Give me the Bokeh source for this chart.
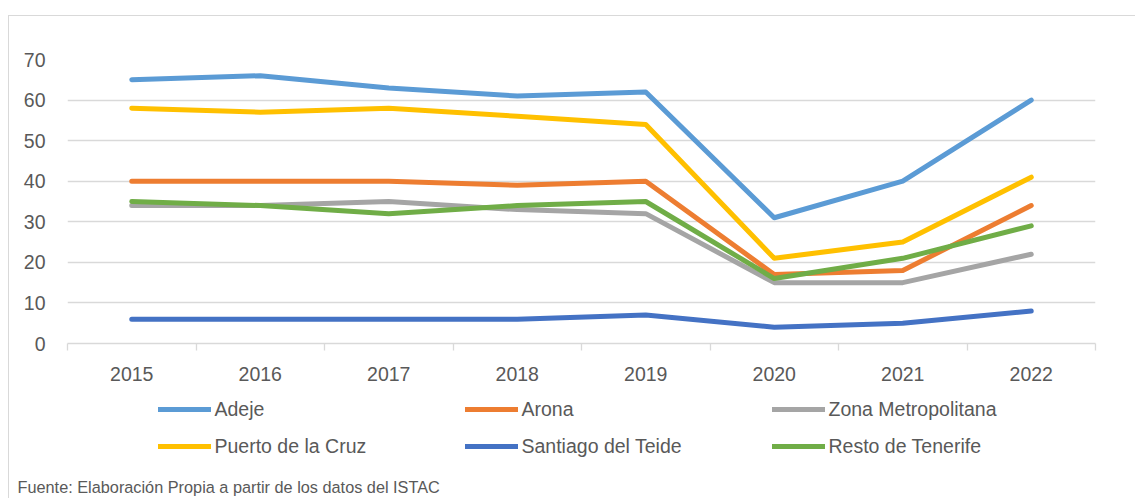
from bokeh.plotting import figure
from bokeh.layouts import column
from bokeh.models import Range1d, FixedTicker, Legend, LegendItem, Label
from bokeh.embed import file_html
from bokeh.resources import INLINE

# ---- data ----
years = ["2015", "2016", "2017", "2018", "2019", "2020", "2021", "2022"]
adeje = [65, 66, 63, 61, 62, 31, 40, 60]
arona = [40, 40, 40, 39, 40, 17, 18, 34]
zona_metropolitana = [34, 34, 35, 33, 32, 15, 15, 22]
puerto_de_la_cruz = [58, 57, 58, 56, 54, 21, 25, 41]
santiago_del_teide = [6, 6, 6, 6, 7, 4, 5, 8]
resto_de_tenerife = [35, 34, 32, 34, 35, 16, 21, 29]
series_names = ["Adeje", "Arona", "Zona Metropolitana",
                "Puerto de la Cruz", "Santiago del Teide", "Resto de Tenerife"]
y_ticks = [0, 10, 20, 30, 40, 50, 60, 70]
source_note = "Fuente: Elaboración Propia a partir de los datos del ISTAC"

# ---- styles ----
series_values = [adeje, arona, zona_metropolitana, puerto_de_la_cruz,
                 santiago_del_teide, resto_de_tenerife]
colors = ["#5B9BD5", "#ED7D31", "#A5A5A5", "#FFC000", "#4472C4", "#70AD47"]
FONT = "Liberation Sans"
TXT = "#595959"
GRID = "#D9D9D9"

W = 1135
H_TOP, H_BOT = 390, 108

# ---------- chart ----------
p = figure(width=W, height=H_TOP, x_range=Range1d(0, len(years)), y_range=Range1d(0, 70),
           output_backend="svg", toolbar_location=None,
           min_border_left=67, min_border_right=40, min_border_top=59,
           min_border_bottom=H_TOP - 343)
p.outline_line_color = None
p.background_fill_color = None
p.border_fill_color = None
p.frame_align = False
p.styles = {
    "background": ("linear-gradient(#D9D9D9,#D9D9D9) 8px 15px / 1px 100% no-repeat, "
                   "linear-gradient(#D9D9D9,#D9D9D9) 8px 15px / 100% 1px no-repeat, white"),
}

xs = [i + 0.5 for i in range(len(years))]
for name, vals, col in zip(series_names, series_values, colors):
    p.line(xs, vals, line_color=col, line_width=5, line_cap="round", line_join="round")

xa = p.xaxis[0]
xa.ticker = FixedTicker(ticks=xs, minor_ticks=list(range(len(years) + 1)))
xa.major_label_overrides = {x: y for x, y in zip(xs, years)}
xa.axis_line_color = GRID
xa.axis_line_width = 1.3
xa.major_tick_line_color = None
xa.major_tick_out = 0
xa.major_tick_in = 0
xa.minor_tick_line_color = GRID
xa.minor_tick_line_width = 1.3
xa.minor_tick_out = 7
xa.minor_tick_in = 0
xa.major_label_standoff = 16
xa.major_label_text_font = FONT
xa.major_label_text_font_size = "19.5px"
xa.major_label_text_color = TXT

ya = p.yaxis[0]
ya.ticker = FixedTicker(ticks=y_ticks)
ya.axis_line_color = None
ya.major_tick_line_color = None
ya.minor_tick_line_color = None
ya.major_tick_out = 0
ya.major_tick_in = 0
ya.major_label_standoff = 22
ya.major_label_text_font = FONT
ya.major_label_text_font_size = "19.5px"
ya.major_label_text_color = TXT

p.xgrid.visible = False
p.ygrid.ticker = FixedTicker(ticks=y_ticks)
p.ygrid.grid_line_color = GRID
p.ygrid.grid_line_width = 1.3

# ---------- legend + source strip ----------
q = figure(width=W, height=H_BOT, x_range=Range1d(0, 1), y_range=Range1d(0, 1),
           output_backend="svg", toolbar_location=None,
           x_axis_location=None, y_axis_location=None,
           min_border_left=0, min_border_right=0, min_border_top=0, min_border_bottom=0)
q.frame_align = False
q.outline_line_color = None
q.background_fill_color = None
q.border_fill_color = None
q.xgrid.visible = False
q.ygrid.visible = False
q.styles = {
    "background": "linear-gradient(#D9D9D9,#D9D9D9) 8px 0px / 1px 100% no-repeat, white",
}

# legend keys (placed outside the visible range; only their legend glyphs show)
keys = [q.line([-3, -2], [-3, -3], line_color=col, line_width=5, line_cap="round")
        for col in colors]

col_x = [157.5, 464.5, 771.5]
for c in range(3):
    items = [LegendItem(label=series_names[c], renderers=[keys[c]]),
             LegendItem(label=series_names[c + 3], renderers=[keys[c + 3]])]
    lg = Legend(items=items, location=(col_x[c], 40.5), orientation="vertical",
                glyph_width=53, glyph_height=20, label_height=20, label_standoff=4,
                spacing=14, padding=0, margin=0, border_line_color=None,
                background_fill_alpha=0, label_text_font=FONT,
                label_text_font_size="19.5px", label_text_color=TXT)
    q.add_layout(lg)

note = Label(x=17, y=3, x_units="screen", y_units="screen", text=source_note,
             text_font=FONT, text_font_size="16.3px", text_color=TXT,
             text_baseline="bottom", text_align="left")
q.add_layout(note)

layout = column(p, q, spacing=0)
open("out.html", "w").write(file_html(layout, INLINE))
